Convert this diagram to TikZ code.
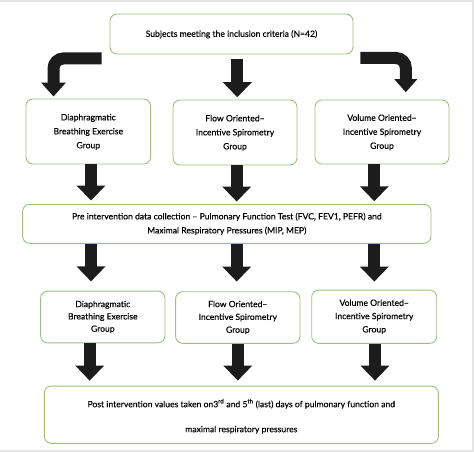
\documentclass[tikz,border=0pt]{standalone}
\usepackage{fontspec}
\setmainfont{Lato}
\newfontfamily\boxfont{Lato}[Ligatures=TeX,FakeBold=0.3]
\usetikzlibrary{arrows.meta,calc}
\definecolor{boxgreen}{HTML}{9DBF7F}
\definecolor{arrblack}{HTML}{1C1C1C}
\definecolor{framegray}{HTML}{E4E4E4}
\newcommand\rtext[2]{\raisebox{#1}{\begin{tabular}{@{}c@{}}#2\end{tabular}}}
\tikzset{
  gbox/.style={draw=boxgreen,line width=0.9pt,rounded corners=7pt,inner sep=0pt,align=center,
    font=\boxfont\fontsize{8.6}{14}\selectfont,text=black},
  bigarr/.style={draw=arrblack,line width=12pt,-{Triangle[width=28pt,length=15pt]}},
  bentarr/.style={draw=arrblack,line width=12pt,rounded corners=10pt,-{Triangle[width=24pt,length=14pt]}},
}
\begin{document}
\begin{tikzpicture}[x=1pt,y=1pt]
\useasboundingbox (0,0) rectangle (474,-452);
\fill[framegray] (0,0) rectangle (474,-2);
\fill[framegray] (472,0) rectangle (474,-452);
\fill[framegray] (0,-449.5) rectangle (474,-452);

\node[gbox,minimum width=243pt,minimum height=40pt] (top) at (231.5,-34) {\rtext{2pt}{Subjects meeting the inclusion criteria (N=42)}};

\node[gbox,minimum width=124.7pt,minimum height=65pt] (d1) at (88.3,-131.5) {\rtext{4pt}{Diaphragmatic\\Breathing Exercise\\Group}};
\node[gbox,minimum width=124pt,minimum height=65pt] (m1) at (235,-132.5) {\rtext{3pt}{Flow Oriented--\\Incentive Spirometry\\Group}};
\node[gbox,minimum width=134pt,minimum height=64pt] (v1) at (382,-132) {\rtext{3pt}{Volume Oriented--\\Incentive Spirometry\\Group}};

\node[gbox,minimum width=408.3pt,minimum height=39pt] (pre) at (226.8,-223.8) {Pre intervention data collection -- Pulmonary Function Test (FVC, FEV1, PEFR) and\\Maximal Respiratory Pressures (MIP, MEP)};

\node[gbox,minimum width=124.3pt,minimum height=51.7pt,font=\boxfont\fontsize{8.6}{12.3}\selectfont] (d2) at (102.8,-317) {Diaphragmatic\\Breathing Exercise\\Group};
\node[gbox,minimum width=124.3pt,minimum height=51.6pt,font=\boxfont\fontsize{8.6}{12.8}\selectfont] (m2) at (237.8,-317.5) {Flow Oriented--\\Incentive Spirometry\\Group};
\node[gbox,minimum width=125pt,minimum height=53.3pt,font=\boxfont\fontsize{8.6}{13.3}\selectfont] (v2) at (374.2,-316.7) {Volume Oriented--\\Incentive Spirometry\\Group};

\node[gbox,minimum width=394pt,minimum height=57.3pt,font=\boxfont\fontsize{8.6}{25}\selectfont] (post) at (241.3,-414.7) {\rtext{3pt}{Post intervention values taken on3\textsuperscript{rd} and 5\textsuperscript{th} (last) days of pulmonary function and\\maximal respiratory pressures}};

% top to first row
\draw[bentarr] ($(top.south west)+(-8,-4)$) -| ($(d1.north)+(-34.8,2)$);
\draw[bigarr] ($(top.south)+(5.8,-5)$) -- ($(m1.north)+(2.3,2.3)$);
\draw[bentarr,-{Triangle[width=22pt,length=13pt]}] ($(top.south east)+(7,-3.5)$) -| ($(v1.north)+(23.8,7.3)$);

% first row to pre
\draw[bigarr] ($(d1.south)+(2.7,0)$) -- ($(d1.south |- pre.north)+(2.7,3.3)$);
\draw[bigarr] ($(m1.south)+(1.7,0)$) -- ($(m1.south |- pre.north)+(1.7,2.3)$);
\draw[bigarr] ($(v1.south)+(-7.7,0)$) -- ($(v1.south |- pre.north)+(-7.7,2.6)$);

% pre to second row
\draw[bigarr] ($(pre.south -| d2.north)+(-11.8,0)$) -- ($(d2.north)+(-11.8,9.3)$);
\draw[bigarr] ($(pre.south -| m2.north)+(-1.1,0)$) -- ($(m2.north)+(-1.1,9.7)$);
\draw[bigarr] ($(pre.south -| v2.north)+(0.1,0)$) -- ($(v2.north)+(0.1,8)$);

% second row to post
\draw[bigarr] ($(d2.south)+(-13.1,0)$) -- ($(d2.south |- post.north)+(-13.1,5)$);
\draw[bigarr] ($(m2.south)+(0,0)$) -- ($(m2.south |- post.north)+(0,5)$);
\draw[bigarr] ($(v2.south)+(0.8,0)$) -- ($(v2.south |- post.north)+(0.8,5)$);
\end{tikzpicture}
\end{document}
